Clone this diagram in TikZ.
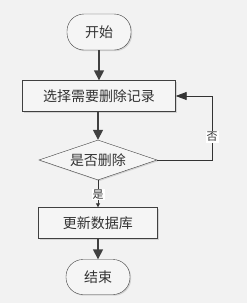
\documentclass[tikz,border=0pt]{standalone}
\usepackage{fontspec}
\newfontfamily\cjk{Noto Sans CJK SC}
\usetikzlibrary{shapes.geometric,arrows.meta,shadows}

\tikzset{
  box/.style={draw=black!75, fill=black!4, text=black!80, inner sep=0pt,
    drop shadow={shadow xshift=1.2pt, shadow yshift=-1.2pt, fill=black!25, opacity=.6}},
  terminal/.style={box, rounded corners=17pt, minimum width=64pt, minimum height=36pt},
  process/.style={box, minimum height=31pt},
  decision/.style={box, diamond, aspect=3, minimum width=118pt, minimum height=40pt},
  flow/.style={draw=black!75, line width=1.6pt, -{Triangle[length=10pt,width=10pt]}},
  back/.style={draw=black!80, line width=.9pt, -{Triangle[length=11pt,width=8pt]}},
  answer/.style={fill=white, text=black!80, inner sep=1pt, font=\cjk\fontsize{11}{12}\selectfont}
}

\begin{document}
\begin{tikzpicture}[x=1pt, y=-1pt, font=\cjk\fontsize{14}{16}\selectfont]
\fill[black!5] (0,0) rectangle (247,303);
\useasboundingbox (0,0) rectangle (247,303);

% nodes
\node[terminal] (start) at (99,32) {开始};
\node[process, minimum width=153pt] (select) at (99,96) {选择需要删除记录};
\node[decision] (ask) at (98,160) {是否删除};
\node[process, minimum width=119pt] (update) at (98,223) {更新数据库};
\node[terminal, minimum height=35pt] (stop) at (98,277) {结束};

% connectors
\draw[flow] (start) -- (start |- select.north);
\draw[flow] (select.south -| ask.north) -- (ask.north);
\draw[back, -{Triangle[length=4pt,width=4pt]}] (ask.south) -- (update.north)
  node[answer, pos=.53] (yes) {是};
\draw[flow] (update) -- (stop);
\coordinate (turn) at (212,160);
\draw[back] (ask.east) -- (turn) |- (select.east);
\node[answer] (no) at (212,137) {否};
\end{tikzpicture}
\end{document}
